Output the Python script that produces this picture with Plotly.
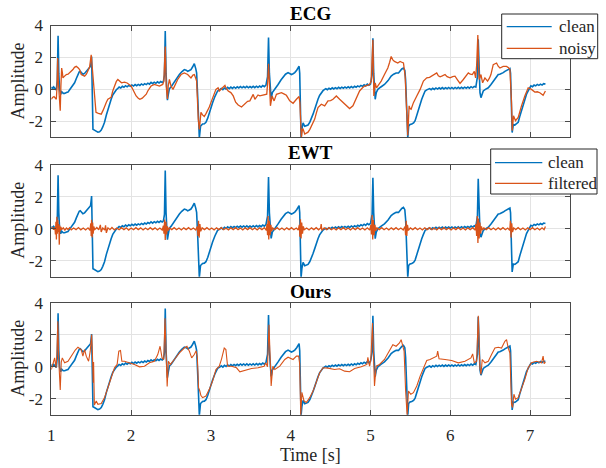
import plotly.graph_objects as go

# ---------------------------------------------------------------- data
# (time [s], amplitude) pairs
clean = [
    (1.000, 0.04), (1.010, 0.14), (1.020, 0.06), (1.030, 0.15), (1.042, 0.08),
    (1.055, 0.02), (1.063, -0.04),
    (1.075, 0.60), (1.085, 3.36), (1.094, 1.00), (1.104, 0.00), (1.117, -0.31),
    (1.130, -0.15), (1.150, -0.25), (1.167, -0.25), (1.190, -0.20), (1.209, -0.17),
    (1.230, -0.02), (1.250, 0.10), (1.270, 0.25), (1.292, 0.41), (1.315, 0.70),
    (1.334, 0.93), (1.350, 1.10), (1.363, 1.13), (1.380, 1.05), (1.396, 0.95),
    (1.417, 1.00), (1.435, 1.12), (1.450, 1.20), (1.470, 1.32), (1.480, 1.38),
    (1.492, 1.45), (1.500, 1.80), (1.505, 2.05), (1.512, 0.20), (1.516, -0.75),
    (1.522, -2.50), (1.540, -2.55), (1.560, -2.62), (1.584, -2.68), (1.605, -2.65),
    (1.626, -2.55), (1.645, -2.35), (1.667, -2.06), (1.690, -1.60), (1.709, -1.24),
    (1.730, -0.90), (1.750, -0.62), (1.770, -0.35), (1.792, -0.17), (1.815, -0.02),
    (1.834, 0.06),
    (1.850, 0.15), (1.870, 0.09), (1.890, 0.19), (1.910, 0.13), (1.930, 0.23),
    (1.950, 0.16), (1.970, 0.25), (1.990, 0.19), (2.010, 0.28), (2.030, 0.21),
    (2.050, 0.30), (2.070, 0.23), (2.090, 0.31), (2.110, 0.25), (2.130, 0.34),
    (2.150, 0.27), (2.170, 0.36), (2.190, 0.30), (2.210, 0.39), (2.230, 0.33),
    (2.250, 0.44), (2.270, 0.36), (2.290, 0.45), (2.310, 0.38), (2.330, 0.47),
    (2.350, 0.40), (2.370, 0.49), (2.390, 0.43), (2.405, 0.50),
    (2.418, 0.90), (2.428, 3.65), (2.438, 1.00),
    (2.447, -0.30), (2.455, -0.68), (2.467, -0.30), (2.480, 0.05), (2.500, 0.15),
    (2.520, 0.30), (2.542, 0.52), (2.570, 0.75), (2.605, 0.93), (2.635, 1.10),
    (2.667, 1.24), (2.690, 1.20), (2.709, 1.13), (2.730, 1.18), (2.750, 1.24),
    (2.770, 1.40), (2.792, 1.61), (2.810, 1.30), (2.821, 1.03), (2.835, -0.50),
    (2.845, -2.00), (2.855, -3.05), (2.870, -2.30), (2.896, -2.17), (2.918, -2.15),
    (2.938, -2.06), (2.960, -1.80), (2.980, -1.45), (3.000, -1.15), (3.021, -0.83),
    (3.050, -0.45), (3.084, -0.10), (3.115, 0.00),
    (3.130, 0.06), (3.150, -0.02), (3.170, 0.09), (3.190, 0.02), (3.210, 0.13),
    (3.230, 0.05), (3.250, 0.14), (3.270, 0.06), (3.290, 0.15), (3.310, 0.07),
    (3.330, 0.16), (3.350, 0.09), (3.370, 0.18), (3.390, 0.10), (3.410, 0.18),
    (3.430, 0.10), (3.450, 0.19), (3.470, 0.10), (3.490, 0.18), (3.510, 0.11),
    (3.530, 0.19), (3.550, 0.11), (3.570, 0.20), (3.590, 0.12), (3.610, 0.21),
    (3.630, 0.14), (3.650, 0.24), (3.670, 0.17), (3.690, 0.27),
    (3.710, 0.80), (3.722, 3.24),
    (3.733, 1.00), (3.745, -0.30), (3.755, -0.60), (3.770, -0.20), (3.801, 0.00),
    (3.842, 0.31), (3.880, 0.60), (3.905, 0.75), (3.935, 0.95), (3.967, 1.05),
    (3.990, 0.98), (4.009, 0.93), (4.030, 0.98), (4.051, 1.05), (4.075, 1.20),
    (4.092, 1.30), (4.105, 1.45), (4.113, 1.00), (4.118, -0.50), (4.124, -2.30),
    (4.130, -3.05), (4.140, -2.50), (4.155, -2.10), (4.176, -2.31), (4.200, -2.28),
    (4.217, -2.23), (4.240, -2.05), (4.259, -1.86), (4.280, -1.55), (4.301, -1.24),
    (4.320, -0.92), (4.342, -0.62), (4.362, -0.38), (4.384, -0.21), (4.405, -0.08),
    (4.426, 0.00),
    (4.440, 0.04), (4.460, -0.02), (4.480, 0.07), (4.500, 0.01), (4.520, 0.10),
    (4.540, 0.03), (4.560, 0.11), (4.580, 0.04), (4.600, 0.13), (4.620, 0.06),
    (4.640, 0.14), (4.660, 0.07), (4.680, 0.15), (4.700, 0.08), (4.720, 0.16),
    (4.740, 0.09), (4.760, 0.18), (4.780, 0.10), (4.800, 0.19), (4.820, 0.13),
    (4.840, 0.22), (4.860, 0.16), (4.880, 0.25), (4.900, 0.19), (4.920, 0.29),
    (4.940, 0.22), (4.960, 0.33), (4.980, 0.26), (5.000, 0.34),
    (5.020, 0.90), (5.030, 3.20), (5.040, 1.00), (5.050, -0.30),
    (5.059, -0.62), (5.072, -0.20), (5.092, 0.00), (5.130, 0.15), (5.175, 0.31),
    (5.220, 0.55), (5.259, 0.83), (5.290, 0.95), (5.321, 1.03), (5.351, 1.03),
    (5.370, 1.15), (5.392, 1.28), (5.413, 1.34), (5.430, 1.20), (5.440, 0.60),
    (5.450, -1.20), (5.458, -2.50), (5.467, -3.05), (5.478, -2.30), (5.495, -2.20),
    (5.517, -2.17), (5.540, -2.10), (5.559, -1.96), (5.580, -1.60), (5.600, -1.24),
    (5.620, -0.90), (5.642, -0.62), (5.663, -0.35), (5.684, -0.10), (5.705, -0.03),
    (5.726, 0.00),
    (5.740, 0.05), (5.760, -0.02), (5.780, 0.07), (5.800, 0.00), (5.820, 0.09),
    (5.840, 0.02), (5.860, 0.10), (5.880, 0.03), (5.900, 0.11), (5.920, 0.03),
    (5.940, 0.11), (5.960, 0.04), (5.980, 0.12), (6.000, 0.04), (6.020, 0.12),
    (6.040, 0.04), (6.060, 0.12), (6.080, 0.05), (6.100, 0.13), (6.120, 0.05),
    (6.140, 0.13), (6.160, 0.06), (6.180, 0.14), (6.200, 0.07), (6.220, 0.15),
    (6.240, 0.08), (6.260, 0.17), (6.280, 0.10), (6.300, 0.19), (6.320, 0.14),
    (6.340, 0.80),
    (6.350, 3.14), (6.360, 1.00), (6.372, -0.20), (6.384, -0.52), (6.398, -0.30),
    (6.413, -0.10), (6.440, 0.00), (6.476, 0.10), (6.510, 0.30), (6.538, 0.52),
    (6.570, 0.75), (6.601, 0.93), (6.620, 0.95), (6.642, 0.98), (6.663, 1.05),
    (6.684, 1.13), (6.705, 1.20), (6.726, 1.28), (6.747, 1.30), (6.755, 1.00),
    (6.762, -0.50), (6.767, -1.86), (6.775, -2.70), (6.790, -2.20), (6.809, -2.23),
    (6.830, -2.15), (6.851, -2.06), (6.870, -1.70), (6.892, -1.34), (6.912, -0.95),
    (6.934, -0.62), (6.955, -0.30), (6.976, -0.10), (6.997, 0.16),
    (7.010, 0.22), (7.030, 0.17), (7.050, 0.27), (7.070, 0.22), (7.090, 0.31),
    (7.110, 0.25), (7.130, 0.33), (7.150, 0.27), (7.170, 0.36), (7.192, 0.33),
]

noisy = [
    (1.000, -0.62), (1.015, -0.50), (1.034, -0.45), (1.050, -0.55), (1.063, -0.62),
    (1.072, 0.20), (1.080, 1.96), (1.088, 0.50), (1.100, -0.80), (1.112, -1.34),
    (1.120, 0.20), (1.130, 1.34), (1.140, 1.00), (1.146, 0.72), (1.160, 0.80),
    (1.188, 0.93), (1.210, 0.95), (1.229, 1.03), (1.250, 1.10), (1.271, 1.24),
    (1.290, 1.38), (1.313, 1.44), (1.335, 1.35), (1.355, 1.24), (1.375, 0.93),
    (1.395, 0.90), (1.417, 0.83), (1.440, 0.95), (1.459, 1.13), (1.480, 1.40),
    (1.500, 2.17), (1.510, 1.60), (1.520, 0.60), (1.534, 0.00), (1.546, -0.40),
    (1.560, -1.44), (1.590, -1.50), (1.626, -1.55), (1.650, -1.30), (1.667, -1.03),
    (1.690, -0.80), (1.709, -0.62), (1.730, -0.55), (1.750, -0.50), (1.770, -0.10),
    (1.792, 0.21), (1.815, 0.50), (1.834, 0.62), (1.860, 0.50), (1.880, 0.41),
    (1.917, 0.45), (1.950, 0.40), (2.000, 0.21), (2.030, -0.10), (2.063, -0.41),
    (2.090, -0.55), (2.110, -0.62), (2.140, -0.55), (2.167, -0.41), (2.190, -0.30),
    (2.209, -0.10), (2.250, 0.21), (2.292, 0.31), (2.330, 0.25), (2.355, 0.21),
    (2.396, 0.31), (2.410, 0.50), (2.428, 2.68), (2.440, 0.20), (2.455, -0.60),
    (2.465, 0.20), (2.480, 0.62), (2.500, 0.21), (2.525, 0.00), (2.550, 0.30),
    (2.584, 0.62), (2.626, 0.93), (2.667, 1.03), (2.709, 0.93), (2.750, 0.72),
    (2.775, 0.90), (2.792, 0.93), (2.810, 0.70), (2.821, 0.52), (2.842, -1.86),
    (2.855, -2.50), (2.860, -2.27), (2.875, -1.44), (2.895, -1.60), (2.917, -1.70),
    (2.940, -1.50), (2.959, -1.34), (2.980, -1.10), (3.000, -0.83), (3.042, -0.31),
    (3.063, 0.00), (3.090, 0.10), (3.105, -0.10), (3.146, 0.10), (3.176, 0.25),
    (3.188, 0.10), (3.217, -0.10), (3.250, -0.20), (3.280, -0.41), (3.310, -0.80),
    (3.342, -0.98), (3.384, -1.10), (3.426, -0.93), (3.460, -0.75), (3.488, -0.72),
    (3.530, -0.31), (3.551, -0.62), (3.590, -0.35), (3.613, -0.41), (3.650, -0.35),
    (3.676, -0.31), (3.700, -0.30), (3.712, 0.50), (3.722, 1.60), (3.735, 0.20),
    (3.746, -1.03), (3.767, -0.41), (3.792, -0.72), (3.821, -0.31), (3.850, -0.25),
    (3.884, -0.21), (3.920, -0.30), (3.946, -0.37), (3.988, -0.72), (4.030, -0.87),
    (4.072, -0.62), (4.105, -0.45), (4.115, -0.83), (4.124, -2.00), (4.134, -3.05),
    (4.145, -2.50), (4.155, -2.48), (4.176, -2.79), (4.200, -2.70), (4.217, -2.68),
    (4.240, -2.50), (4.259, -2.27), (4.280, -2.10), (4.301, -1.86), (4.320, -1.50),
    (4.342, -1.14), (4.384, -0.93), (4.426, -1.03), (4.467, -0.72), (4.500, -0.70),
    (4.530, -0.62), (4.572, -0.41), (4.613, -0.62), (4.650, -0.80), (4.676, -0.93),
    (4.710, -1.10), (4.738, -1.20), (4.780, -1.03), (4.822, -0.52), (4.863, -0.10),
    (4.900, 0.10), (4.926, 0.21), (4.960, 0.25), (4.988, 0.31), (5.009, 0.52),
    (5.020, 1.50), (5.030, 3.10), (5.042, -0.41), (5.059, 0.41), (5.075, 0.10),
    (5.092, 0.21), (5.134, 0.52), (5.175, 0.93), (5.217, 1.34), (5.240, 1.70),
    (5.259, 2.06), (5.280, 1.85), (5.300, 1.75), (5.342, 1.65), (5.371, 1.75),
    (5.392, 1.70), (5.413, 1.65), (5.434, 0.83), (5.450, -1.65), (5.467, -2.89),
    (5.484, -1.03), (5.495, -1.20), (5.509, -1.24), (5.538, -0.83), (5.580, -0.41),
    (5.622, 0.00), (5.663, 0.52), (5.705, 0.72), (5.740, 0.75), (5.767, 0.83),
    (5.800, 0.90), (5.830, 1.03), (5.850, 0.85), (5.872, 0.79), (5.900, 0.85),
    (5.934, 0.93), (5.960, 0.80), (5.997, 0.72), (6.030, 0.80), (6.059, 0.83),
    (6.090, 0.60), (6.122, 0.37), (6.163, 0.62), (6.200, 0.85), (6.226, 1.03),
    (6.250, 0.95), (6.276, 0.93), (6.301, 1.13), (6.317, 0.72), (6.330, 1.50),
    (6.345, 3.40), (6.358, 1.00), (6.363, 0.62), (6.384, 0.93), (6.405, 0.41),
    (6.434, 0.72), (6.467, 0.52), (6.490, 0.70), (6.509, 0.93), (6.538, 1.55),
    (6.560, 1.60), (6.580, 1.65), (6.600, 1.45), (6.622, 1.34), (6.663, 1.44),
    (6.705, 1.44), (6.730, 1.35), (6.747, 1.24), (6.767, -0.83), (6.776, -2.58),
    (6.792, -1.65), (6.817, -1.96), (6.851, -1.75), (6.870, -1.40), (6.892, -1.03),
    (6.934, -0.41), (6.976, 0.10), (7.017, 0.00), (7.059, -0.17), (7.090, -0.15),
    (7.122, -0.21), (7.163, -0.37), (7.180, -0.25), (7.192, -0.10),
]

ewt_filtered = [
    (1.000, 0.00), (1.015, 0.08), (1.030, -0.06), (1.045, 0.10), (1.052, -0.35),
    (1.058, 0.45), (1.064, -0.67), (1.070, 0.75), (1.076, -0.30), (1.082, 0.55),
    (1.088, -0.20), (1.094, 0.30), (1.100, -0.99), (1.106, 0.20), (1.112, -0.15),
    (1.120, 0.12), (1.130, -0.05), (1.150, 0.06), (1.170, -0.08), (1.190, 0.05),
    (1.210, -0.04), (1.230, 0.07), (1.250, -0.06), (1.280, 0.05), (1.310, -0.05),
    (1.340, 0.08), (1.370, -0.06), (1.400, 0.05), (1.430, -0.07), (1.460, 0.06),
    (1.485, -0.10), (1.495, 0.35), (1.500, -0.45), (1.505, 0.56), (1.512, -0.54),
    (1.518, 0.40), (1.525, -0.30), (1.532, 0.15), (1.545, -0.05), (1.570, 0.08),
    (1.595, -0.06), (1.615, 0.25), (1.625, -0.20), (1.645, 0.05), (1.670, -0.08),
    (1.680, 0.22), (1.690, -0.25), (1.710, 0.06), (1.735, -0.05), (1.760, 0.08),
    (1.790, -0.07), (1.820, 0.05), (1.850, -0.06), (1.880, 0.07), (1.910, -0.05),
    (1.940, 0.06), (1.970, -0.08), (2.000, 0.05), (2.030, -0.06), (2.060, 0.07),
    (2.090, -0.05), (2.120, 0.06), (2.150, -0.07), (2.180, 0.05), (2.210, -0.06),
    (2.240, 0.07), (2.270, -0.05), (2.300, 0.06), (2.330, -0.07), (2.360, 0.05),
    (2.390, -0.08), (2.405, 0.20), (2.412, -0.30), (2.420, 0.58), (2.428, -0.70),
    (2.436, 0.45), (2.445, -0.35), (2.455, 0.15), (2.465, -0.10), (2.480, 0.06),
    (2.510, -0.05), (2.540, 0.07), (2.570, -0.06), (2.600, 0.05), (2.630, -0.07),
    (2.660, 0.06), (2.690, -0.05), (2.720, 0.07), (2.750, -0.06), (2.780, 0.05),
    (2.810, -0.07), (2.830, 0.15), (2.838, -0.45), (2.845, 0.50), (2.853, -0.55),
    (2.862, 0.30), (2.872, -0.15), (2.890, 0.06), (2.920, -0.05), (2.950, 0.07),
    (2.980, -0.06), (3.010, 0.05), (3.040, -0.07), (3.070, 0.06), (3.100, -0.05),
    (3.130, 0.07), (3.160, -0.06), (3.190, 0.05), (3.220, -0.07), (3.250, 0.06),
    (3.280, -0.05), (3.310, 0.07), (3.340, -0.06), (3.370, 0.05), (3.400, -0.07),
    (3.430, 0.06), (3.460, -0.05), (3.490, 0.07), (3.520, -0.06), (3.550, 0.05),
    (3.580, -0.07), (3.610, 0.06), (3.640, -0.05), (3.670, 0.07), (3.695, -0.10),
    (3.703, 0.30), (3.710, -0.40), (3.717, 0.80), (3.725, -0.67), (3.733, 0.50),
    (3.742, -0.40), (3.752, 0.25), (3.762, -0.15), (3.775, 0.06), (3.800, -0.05),
    (3.830, 0.07), (3.860, -0.06), (3.890, 0.05), (3.920, -0.07), (3.950, 0.06),
    (3.980, -0.05), (4.010, 0.07), (4.040, -0.06), (4.070, 0.05), (4.095, -0.07),
    (4.108, 0.25), (4.115, -0.50), (4.122, 0.60), (4.130, -0.60), (4.138, 0.40),
    (4.148, -0.30), (4.158, 0.15), (4.170, -0.06), (4.200, 0.05), (4.230, -0.07),
    (4.260, 0.06), (4.290, -0.05), (4.320, 0.07), (4.350, -0.06), (4.375, 0.05),
    (4.382, 0.30), (4.390, -0.10), (4.420, 0.06), (4.450, -0.05), (4.480, 0.07),
    (4.510, -0.06), (4.540, 0.05), (4.570, -0.07), (4.600, 0.06), (4.630, -0.05),
    (4.660, 0.07), (4.690, -0.06), (4.720, 0.05), (4.750, -0.07), (4.780, 0.06),
    (4.810, -0.05), (4.840, 0.07), (4.870, -0.06), (4.900, 0.05), (4.930, -0.07),
    (4.960, 0.06), (4.990, -0.08), (5.005, 0.25), (5.012, -0.35), (5.020, 0.87),
    (5.028, -0.67), (5.036, 0.55), (5.045, -0.40), (5.055, 0.25), (5.065, -0.12),
    (5.080, 0.06), (5.110, -0.05), (5.140, 0.07), (5.170, -0.06), (5.200, 0.05),
    (5.230, -0.07), (5.260, 0.06), (5.290, -0.05), (5.320, 0.07), (5.350, -0.06),
    (5.380, 0.05), (5.410, -0.07), (5.432, 0.15), (5.440, -0.40), (5.447, 0.50),
    (5.455, -0.45), (5.463, 0.25), (5.475, -0.10), (5.500, 0.06), (5.530, -0.05),
    (5.560, 0.07), (5.590, -0.06), (5.620, 0.05), (5.650, -0.07), (5.680, 0.06),
    (5.710, -0.05), (5.740, 0.07), (5.770, -0.06), (5.800, 0.05), (5.830, -0.07),
    (5.860, 0.06), (5.890, -0.05), (5.920, 0.07), (5.950, -0.06), (5.980, 0.05),
    (6.010, -0.07), (6.040, 0.06), (6.070, -0.05), (6.100, 0.07), (6.130, -0.06),
    (6.160, 0.05), (6.190, -0.07), (6.220, 0.06), (6.250, -0.05), (6.280, 0.07),
    (6.310, -0.08), (6.322, 0.30), (6.330, -0.45), (6.338, 0.80), (6.346, -0.88),
    (6.354, 0.65), (6.362, -0.60), (6.371, 0.40), (6.380, -0.30), (6.390, 0.15),
    (6.402, -0.08), (6.420, 0.06), (6.450, -0.05), (6.480, 0.07), (6.510, -0.06),
    (6.540, 0.05), (6.570, -0.07), (6.600, 0.06), (6.630, -0.05), (6.660, 0.07),
    (6.690, -0.06), (6.720, 0.05), (6.745, -0.10), (6.753, 0.50), (6.761, -0.55),
    (6.770, 0.35), (6.780, -0.20), (6.795, 0.06), (6.820, -0.05), (6.850, 0.07),
    (6.880, -0.06), (6.910, 0.05), (6.940, -0.07), (6.970, 0.06), (7.000, -0.05),
    (7.030, 0.07), (7.060, -0.06), (7.090, 0.05), (7.120, -0.07), (7.150, 0.06),
    (7.175, -0.05), (7.192, 0.15),
]

ours = [
    (1.000, -0.17), (1.021, 0.15), (1.042, 0.56), (1.059, -0.06), (1.070, 0.80),
    (1.082, 2.85), (1.092, 0.56), (1.112, -1.45), (1.125, 0.30), (1.138, 0.56),
    (1.167, 0.25), (1.209, 0.35), (1.240, 0.60), (1.271, 0.87), (1.300, 1.05),
    (1.334, 1.23), (1.355, 1.15), (1.375, 1.08), (1.396, 0.67), (1.417, 1.08),
    (1.438, 0.67), (1.467, 0.35), (1.488, 0.98), (1.505, 2.02), (1.515, 0.90),
    (1.525, -1.00), (1.530, 0.30), (1.540, -2.40), (1.563, -2.14), (1.584, -2.35),
    (1.626, -2.30), (1.667, -1.93), (1.709, -1.31), (1.750, -0.68), (1.792, -0.06),
    (1.825, 0.15), (1.846, 0.98), (1.867, 1.02), (1.884, 0.35), (1.917, 0.35),
    (1.980, 0.25), (2.042, 0.15), (2.105, 0.00), (2.167, 0.04), (2.230, 0.25),
    (2.292, 0.35), (2.334, 0.77), (2.363, 1.29), (2.388, 0.56), (2.409, 0.46),
    (2.425, 3.05), (2.442, -0.06), (2.452, -1.23), (2.467, 0.35), (2.492, 0.15),
    (2.542, 0.46), (2.605, 0.87), (2.667, 1.18), (2.700, 1.29), (2.730, 0.98),
    (2.759, 0.56), (2.792, 0.77), (2.815, 1.00), (2.830, 0.60), (2.845, -1.30),
    (2.860, -1.50), (2.875, -1.80), (2.896, -1.93), (2.938, -1.83), (2.980, -1.41),
    (3.021, -0.89), (3.063, -0.17), (3.105, 0.04), (3.134, 0.50), (3.167, 1.18),
    (3.188, 1.08), (3.209, 0.04), (3.259, 0.04), (3.321, -0.06), (3.363, -0.31),
    (3.426, -0.23), (3.509, -0.10), (3.592, -0.06), (3.667, 0.04), (3.688, 0.25),
    (3.709, 0.00), (3.728, 2.64), (3.740, 1.00), (3.755, -1.20), (3.776, 0.04),
    (3.801, -0.17), (3.863, 0.04), (3.926, 0.46), (3.967, 0.60), (4.030, 0.46),
    (4.072, 0.67), (4.100, 0.67), (4.112, 0.20), (4.126, -3.05), (4.140, -1.60),
    (4.167, -2.14), (4.196, -2.24), (4.238, -1.93), (4.280, -1.52), (4.322, -1.00),
    (4.363, -0.37), (4.405, -0.06), (4.467, -0.08), (4.550, -0.17), (4.613, -0.12),
    (4.676, -0.27), (4.738, -0.31), (4.801, -0.10), (4.884, 0.00), (4.955, 0.15),
    (4.967, 0.60), (4.988, 0.04), (5.005, 0.50), (5.025, 2.74), (5.038, 0.30),
    (5.050, -1.20), (5.071, 0.04), (5.113, 0.15), (5.175, 0.46), (5.238, 0.98),
    (5.280, 1.39), (5.321, 1.29), (5.363, 1.50), (5.384, 1.70), (5.401, 1.39),
    (5.421, 0.98), (5.440, -1.50), (5.459, -3.05), (5.476, -1.52), (5.505, -1.72),
    (5.538, -1.62), (5.580, -1.20), (5.622, -0.58), (5.663, -0.06), (5.705, 0.40),
    (5.746, 0.46), (5.788, 0.56), (5.830, 0.67), (5.842, 0.98), (5.859, 0.50),
    (5.934, 0.46), (6.017, 0.40), (6.100, 0.25), (6.184, 0.35), (6.259, 0.56),
    (6.280, 0.81), (6.301, 0.25), (6.330, 0.35), (6.351, 3.20), (6.371, -0.06),
    (6.384, -0.48), (6.400, 0.46), (6.434, 0.25), (6.476, 0.35), (6.517, 0.77),
    (6.559, 1.18), (6.601, 1.23), (6.642, 1.18), (6.684, 1.60), (6.705, 1.70),
    (6.726, 1.18), (6.747, 0.87), (6.767, -2.35), (6.780, -2.55), (6.797, -1.72),
    (6.817, -2.03), (6.851, -1.93), (6.892, -1.41), (6.934, -0.79), (6.976, -0.06),
    (7.017, 0.25), (7.080, 0.35), (7.142, 0.25), (7.163, 0.67), (7.176, 0.20),
    (7.192, 0.30),
]

panel_titles = ["ECG", "EWT", "Ours"]
panel_series = [("clean", clean, "noisy", noisy),
                ("clean", clean, "filtered", ewt_filtered),
                ("clean", clean, "ours", ours)]
legend_panels = [0, 1]          # panels that carry a legend box

time_range = [1, 7.5]
amp_range = [-3, 4]
time_ticks = [1, 2, 3, 4, 5, 6, 7]
amp_ticks = [-2, 0, 2, 4]
amp_tick_text = ["-2", "0", "2", "4"]
x_label = "Time [s]"
y_label = "Amplitude"

# ---------------------------------------------------------------- style
W, H = 606, 468
BLUE = "#0072BD"
ORANGE = "#D95319"
AXIS = "#4a4a4a"
GRID = "#e3e3e3"
TEXT = "#262626"
FONT = "Liberation Serif, Times New Roman, serif"


def fx(px):
    return px / W


def fy(px):
    return 1 - px / H


x_dom = [fx(51.3), fx(570.0)]
panel_px = [(25.5, 137.3), (165.0, 276.7), (303.0, 414.7)]
title_px = [13.5, 152.5, 291.0]
legend_boxes = [
    dict(x0=501.7, x1=597.7, y0=14.0, y1=58.7, line=(506.7, 551.7), text=557.0,
         rows=(26.7, 48.3)),
    dict(x0=490.7, x1=597.0, y0=149.0, y1=194.0, line=(495.0, 542.3), text=545.5,
         rows=(162.7, 183.3)),
]

fig = go.Figure()
layout = dict(
    width=W, height=H, autosize=False,
    margin=dict(l=0, r=0, t=0, b=0, pad=0, autoexpand=False),
    paper_bgcolor="white", plot_bgcolor="white", showlegend=False,
    font=dict(family=FONT, color=TEXT),
)
shapes, annotations = [], []

for i, (name_a, data_a, name_b, data_b) in enumerate(panel_series):
    s = "" if i == 0 else str(i + 1)
    top, bot = panel_px[i]
    layout[f"xaxis{s}"] = dict(
        domain=x_dom, anchor=f"y{s}", range=time_range, automargin=False,
        tickvals=time_ticks, ticks="inside", ticklen=5, tickwidth=1, tickcolor=AXIS,
        showline=True, linecolor=AXIS, linewidth=1, mirror="ticks",
        showgrid=True, gridcolor=GRID, gridwidth=1, zeroline=False,
        showticklabels=(i == 2), ticklabelstandoff=5,
        tickfont=dict(family=FONT, size=17, color=TEXT),
    )
    layout[f"yaxis{s}"] = dict(
        domain=[fy(bot), fy(top)], anchor=f"x{s}", range=amp_range, automargin=False,
        tickvals=amp_ticks, ticktext=amp_tick_text,
        ticks="inside", ticklen=5, tickwidth=1, tickcolor=AXIS,
        showline=True, linecolor=AXIS, linewidth=1, mirror="ticks",
        showgrid=True, gridcolor=GRID, gridwidth=1, zeroline=False,
        ticklabelstandoff=4, tickfont=dict(family=FONT, size=17, color=TEXT),
    )
    ta, va = zip(*data_a)
    tb, vb = zip(*data_b)
    fig.add_trace(go.Scatter(x=ta, y=va, mode="lines", name=name_a,
                             line=dict(color=BLUE, width=1.6),
                             xaxis=f"x{s}", yaxis=f"y{s}"))
    fig.add_trace(go.Scatter(x=tb, y=vb, mode="lines", name=name_b,
                             line=dict(color=ORANGE, width=1.3 if i < 2 else 1.1),
                             xaxis=f"x{s}", yaxis=f"y{s}"))
    annotations.append(dict(
        text=f"<b>{panel_titles[i]}</b>", x=(x_dom[0] + x_dom[1]) / 2, y=fy(title_px[i]),
        xref="paper", yref="paper", xanchor="center", yanchor="middle",
        showarrow=False, font=dict(family=FONT, size=19, color="black"),
    ))
    annotations.append(dict(
        text=y_label, x=fx(18), y=fy((top + bot) / 2), textangle=-90,
        xref="paper", yref="paper", xanchor="center", yanchor="middle",
        showarrow=False, font=dict(family=FONT, size=18, color=TEXT),
    ))
    if i in legend_panels:
        box = legend_boxes[legend_panels.index(i)]
        shapes.append(dict(type="rect", xref="paper", yref="paper",
                           x0=fx(box["x0"]), x1=fx(box["x1"]),
                           y0=fy(box["y1"]), y1=fy(box["y0"]),
                           fillcolor="white", line=dict(color=TEXT, width=1)))
        for row_y, nm, col in zip(box["rows"], (name_a, name_b), (BLUE, ORANGE)):
            shapes.append(dict(type="line", xref="paper", yref="paper",
                               x0=fx(box["line"][0]), x1=fx(box["line"][1]),
                               y0=fy(row_y), y1=fy(row_y),
                               line=dict(color=col, width=1.3)))
            annotations.append(dict(
                text=nm, x=fx(box["text"]), y=fy(row_y), xref="paper", yref="paper",
                xanchor="left", yanchor="middle", showarrow=False,
                font=dict(family=FONT, size=17, color=TEXT),
            ))

annotations.append(dict(
    text=x_label, x=(x_dom[0] + x_dom[1]) / 2, y=fy(455), xref="paper", yref="paper",
    xanchor="center", yanchor="middle", showarrow=False,
    font=dict(family=FONT, size=18, color=TEXT),
))

layout["shapes"] = shapes
layout["annotations"] = annotations
fig.update_layout(**layout)
fig.write_html("out.html")
